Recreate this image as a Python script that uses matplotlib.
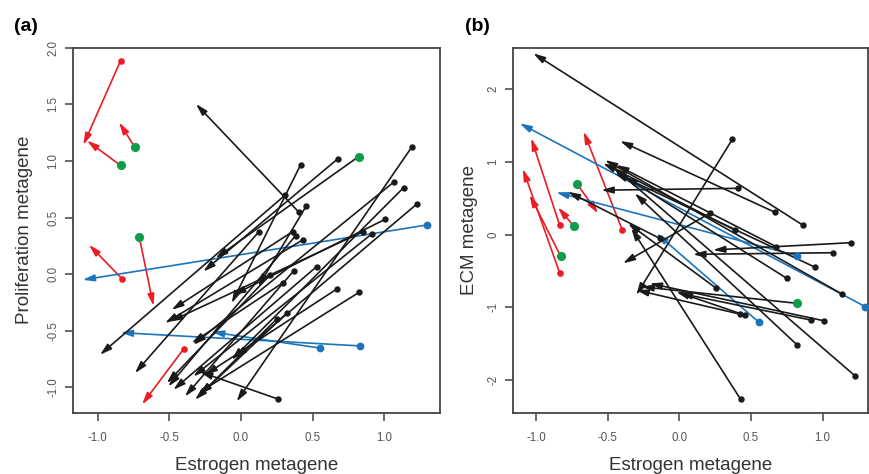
import numpy as np
import matplotlib
matplotlib.use("Agg")
import matplotlib.pyplot as plt

plt.rcParams['font.family'] = ['Liberation Sans', 'DejaVu Sans']

# colour codes: k = black, r = red, g = green, b = blue
# ---- panel (a): Estrogen vs Proliferation metagene ----
a_x0 = [-0.84, -0.84, -0.74, -0.71, -0.83, -0.40,
        1.295, 0.83, 0.555,
        0.821, 0.675, 0.417, 0.405, 0.307, 0.126, 0.361, 0.431, 1.193, 1.228,
        1.070, 1.135, 1.007, 0.456, 0.853, 0.914, 0.382, 0.528, 0.370, 0.202,
        0.295, 0.668, 0.826, 0.319, 0.249, 0.260]
a_y0 = [1.885, 0.96, 1.12, 0.33, -0.04, -0.66,
        0.434, -0.633, -0.653,
        1.038, 1.018, 0.967, 0.547, 0.697, 0.376, 0.376, 0.303, 1.124, 0.620,
        0.817, 0.764, 0.485, 0.603, 0.376, 0.356, 0.341, 0.067, 0.032, -0.009,
        -0.074, -0.132, -0.159, -0.344, -0.397, -1.103]
a_x1 = [-1.10, -1.075, -0.85, -0.61, -1.06, -0.69,
        -1.105, -0.84, -0.203,
        -0.177, -0.263, -0.065, -0.314, -0.984, -0.740, -0.484, -0.530, -0.030, -0.042,
        -0.333, -0.065, -0.054, 0.121, -0.495, -0.333, -0.507, -0.472, -0.391, -0.518,
        -0.344, -0.251, -0.298, -0.321, -0.286, -0.286]
a_y1 = [1.14, 1.18, 1.34, -0.28, 0.26, -1.15,
        -0.05, -0.516, -0.51,
        0.141, 0.023, -0.256, 1.503, -0.712, -0.874, -0.315, -0.432, -1.124, -0.739,
        -0.624, -0.756, -0.183, -0.109, -0.418, -0.904, -0.992, -1.021, -1.080, -0.962,
        -0.609, -0.889, -1.050, -1.109, -1.065, -0.862]
a_line = list("rrrrrr") + list("bbb") + list("k" * 26)
a_dot = list("rggg" + "rr") + list("bbb") + ["g"] + list("k" * 25)

# ---- panel (b): Estrogen vs ECM metagene ----
b_x0 = [-0.835, -0.835, -0.828, -0.737, -0.712, -0.398,
        1.298, 0.823, 0.556,
        0.861, 0.668, 0.370, 0.412, 1.196, 1.070, 1.135, 1.008, 0.917, 0.823,
        0.823, 1.228, 0.428, 0.387, 0.212, 0.421, 0.456, 0.258, -0.137, 0.677,
        0.95, 0.75]
b_y0 = [0.133, -0.523, -0.293, 0.120, 0.693, 0.065,
        -0.990, -0.289, -1.205,
        0.133, 0.308, 1.312, 0.638, -0.110, -0.248, -0.816, -1.183, -1.173, -0.944,
        -1.517, -1.944, -2.264, 0.065, 0.294, -1.091, -1.105, -0.737, -0.050, -0.165,
        -0.45, -0.60]
b_x1 = [-1.033, -1.091, -1.044, -0.846, -0.567, -0.667,
        -1.114, -0.858, -0.160,
        -1.019, -0.414, -0.30, -0.544, 0.235, 0.096, -0.518, -0.207, 0.003, -0.265,
        -0.311, -0.463, -0.335, -0.532, -0.393, -0.300, -0.021, -0.358, -0.777, -0.440,
        -0.45, -0.38]
b_y1 = [1.326, 0.904, 0.546, 0.377, 0.294, 1.417,
        1.532, 0.583, 0.019,
        2.495, 1.289, -0.83, 0.612, -0.210, -0.270, 1.027, -0.669, -0.806, -0.715,
        0.569, 0.935, 0.088, 0.982, -0.394, -0.761, -0.784, 0.157, 0.591, 0.959,
        0.85, 0.80]
b_line = list("rrrrrr") + list("bbb") + list("k" * 22)
b_dot = list("rrgggr") + list("bbb") + list("kkkkkkkkk") + ["g"] + list("k" * 12)

a_xticks = [-1.0, -0.5, 0.0, 0.5, 1.0]
a_xlabels = ["-1.0", "-0.5", "0.0", "0.5", "1.0"]
a_yticks = [-1.0, -0.5, 0.0, 0.5, 1.0, 1.5, 2.0]
a_ylabels = ["-1.0", "-0.5", "0.0", "0.5", "1.0", "1.5", "2.0"]
b_xticks = a_xticks
b_xlabels = a_xlabels
b_yticks = [-2, -1, 0, 1, 2]
b_ylabels = ["-2", "-1", "0", "1", "2"]

colors = {"k": "#1a1a1a", "r": "#ec1c24", "g": "#0f9d49", "b": "#1c75bc"}
dot_size = {"k": 4.6, "r": 4.8, "g": 6.6, "b": 5.6}


def draw_panel(ax, x0, y0, x1, y1, line, dot):
    for i in range(len(x0)):
        c = colors[line[i]]
        ax.annotate("", xy=(x1[i], y1[i]), xytext=(x0[i], y0[i]),
                    arrowprops=dict(arrowstyle="-|>,head_length=0.7,head_width=0.2",
                                    color=c, lw=1.2, shrinkA=0, shrinkB=0,
                                    mutation_scale=10))
    for i in range(len(x0)):
        ax.plot(x0[i], y0[i], "o", color=colors[dot[i]], ms=dot_size[dot[i]],
                mec="none", zorder=5)


def style_axes(ax, xticks, xlabels, yticks, ylabels, ylabel, ypad):
    for s in ax.spines.values():
        s.set_color("#444444")
        s.set_linewidth(1.3)
    ax.set_xticks(xticks)
    ax.set_xticklabels(xlabels)
    ax.set_yticks(yticks)
    ax.set_yticklabels(ylabels, rotation=90, va="center")
    ax.tick_params(direction="out", length=6, width=1.1, color="#444444",
                   labelsize=8.3, labelcolor="#555555")
    ax.tick_params(axis="x", pad=8)
    ax.tick_params(axis="y", pad=4)
    ax.set_xlabel("Estrogen metagene", fontsize=13.5, color="#333333", labelpad=9)
    ax.set_ylabel(ylabel, fontsize=13.5, color="#333333", labelpad=ypad)


fig = plt.figure(figsize=(8.69, 4.74), dpi=100)
ax1 = fig.add_axes([0.0840, 0.1293, 0.4223, 0.7701])
ax2 = fig.add_axes([0.5907, 0.1293, 0.4087, 0.7701])

draw_panel(ax1, a_x0, a_y0, a_x1, a_y1, a_line, a_dot)
ax1.set_xlim(-1.172, 1.389)
ax1.set_ylim(-1.223, 2.0)
style_axes(ax1, a_xticks, a_xlabels, a_yticks, a_ylabels, "Proliferation metagene", 10)

draw_panel(ax2, b_x0, b_y0, b_x1, b_y1, b_line, b_dot)
ax2.set_xlim(-1.158, 1.32)
ax2.set_ylim(-2.448, 2.572)
style_axes(ax2, b_xticks, b_xlabels, b_yticks, b_ylabels, "ECM metagene", 7)

fig.text(0.016, 0.945, "(a)", fontsize=14, fontweight="bold", va="center")
fig.text(0.535, 0.945, "(b)", fontsize=14, fontweight="bold", va="center")

fig.savefig("out.png", dpi=100)
